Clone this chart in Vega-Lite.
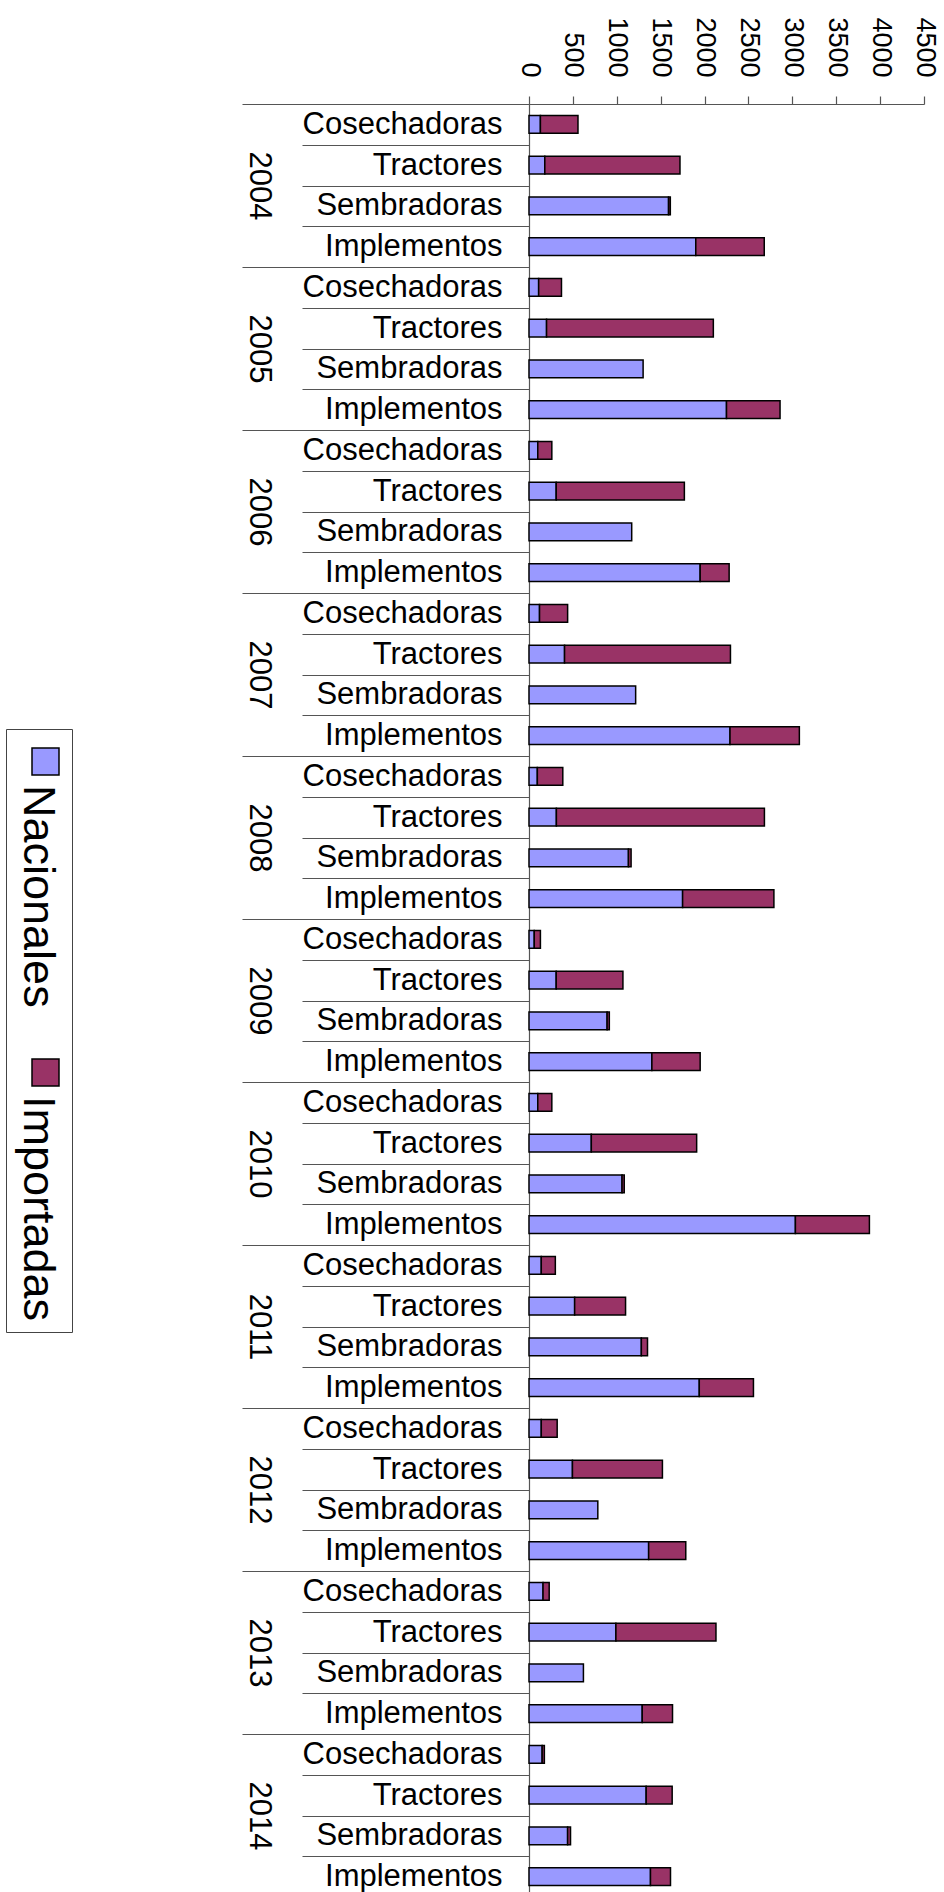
{
  "$schema": "https://vega.github.io/schema/vega-lite/v6.json",
  "autosize": {"type": "none"},
  "padding": {"left": 529, "top": 104, "right": 20, "bottom": 0},
  "width": 395,
  "height": 1793,
  "config": {
    "view": {"stroke": null},
    "font": "Liberation Sans",
    "axis": {"labelFont": "Liberation Sans", "labelColor": "black", "domainColor": "#555", "tickColor": "#555", "grid": false, "domainWidth": 1.2, "tickWidth": 1.2},
    "legend": {"labelFont": "Liberation Sans", "labelColor": "black"}
  },
  "datasets": {
    "d": [
      {"fila": "2004 Cosechadoras", "anio": "2004", "origen": "Nacionales", "unidades": 130},
      {"fila": "2004 Cosechadoras", "anio": "2004", "origen": "Importadas", "unidades": 428},
      {"fila": "2004 Tractores", "anio": "2004", "origen": "Nacionales", "unidades": 180},
      {"fila": "2004 Tractores", "anio": "2004", "origen": "Importadas", "unidades": 1540},
      {"fila": "2004 Sembradoras", "anio": "2004", "origen": "Nacionales", "unidades": 1590},
      {"fila": "2004 Sembradoras", "anio": "2004", "origen": "Importadas", "unidades": 20},
      {"fila": "2004 Implementos", "anio": "2004", "origen": "Nacionales", "unidades": 1900},
      {"fila": "2004 Implementos", "anio": "2004", "origen": "Importadas", "unidades": 780},
      {"fila": "2005 Cosechadoras", "anio": "2005", "origen": "Nacionales", "unidades": 110},
      {"fila": "2005 Cosechadoras", "anio": "2005", "origen": "Importadas", "unidades": 260},
      {"fila": "2005 Tractores", "anio": "2005", "origen": "Nacionales", "unidades": 200},
      {"fila": "2005 Tractores", "anio": "2005", "origen": "Importadas", "unidades": 1900},
      {"fila": "2005 Sembradoras", "anio": "2005", "origen": "Nacionales", "unidades": 1300},
      {"fila": "2005 Implementos", "anio": "2005", "origen": "Nacionales", "unidades": 2250},
      {"fila": "2005 Implementos", "anio": "2005", "origen": "Importadas", "unidades": 610},
      {"fila": "2006 Cosechadoras", "anio": "2006", "origen": "Nacionales", "unidades": 100},
      {"fila": "2006 Cosechadoras", "anio": "2006", "origen": "Importadas", "unidades": 160},
      {"fila": "2006 Tractores", "anio": "2006", "origen": "Nacionales", "unidades": 310},
      {"fila": "2006 Tractores", "anio": "2006", "origen": "Importadas", "unidades": 1460},
      {"fila": "2006 Sembradoras", "anio": "2006", "origen": "Nacionales", "unidades": 1170},
      {"fila": "2006 Implementos", "anio": "2006", "origen": "Nacionales", "unidades": 1950},
      {"fila": "2006 Implementos", "anio": "2006", "origen": "Importadas", "unidades": 330},
      {"fila": "2007 Cosechadoras", "anio": "2007", "origen": "Nacionales", "unidades": 120},
      {"fila": "2007 Cosechadoras", "anio": "2007", "origen": "Importadas", "unidades": 320},
      {"fila": "2007 Tractores", "anio": "2007", "origen": "Nacionales", "unidades": 405},
      {"fila": "2007 Tractores", "anio": "2007", "origen": "Importadas", "unidades": 1890},
      {"fila": "2007 Sembradoras", "anio": "2007", "origen": "Nacionales", "unidades": 1215},
      {"fila": "2007 Implementos", "anio": "2007", "origen": "Nacionales", "unidades": 2290},
      {"fila": "2007 Implementos", "anio": "2007", "origen": "Importadas", "unidades": 790},
      {"fila": "2008 Cosechadoras", "anio": "2008", "origen": "Nacionales", "unidades": 95},
      {"fila": "2008 Cosechadoras", "anio": "2008", "origen": "Importadas", "unidades": 290},
      {"fila": "2008 Tractores", "anio": "2008", "origen": "Nacionales", "unidades": 312},
      {"fila": "2008 Tractores", "anio": "2008", "origen": "Importadas", "unidades": 2370},
      {"fila": "2008 Sembradoras", "anio": "2008", "origen": "Nacionales", "unidades": 1133},
      {"fila": "2008 Sembradoras", "anio": "2008", "origen": "Importadas", "unidades": 30},
      {"fila": "2008 Implementos", "anio": "2008", "origen": "Nacionales", "unidades": 1750},
      {"fila": "2008 Implementos", "anio": "2008", "origen": "Importadas", "unidades": 1040},
      {"fila": "2009 Cosechadoras", "anio": "2009", "origen": "Nacionales", "unidades": 60},
      {"fila": "2009 Cosechadoras", "anio": "2009", "origen": "Importadas", "unidades": 70},
      {"fila": "2009 Tractores", "anio": "2009", "origen": "Nacionales", "unidades": 310},
      {"fila": "2009 Tractores", "anio": "2009", "origen": "Importadas", "unidades": 760},
      {"fila": "2009 Sembradoras", "anio": "2009", "origen": "Nacionales", "unidades": 890},
      {"fila": "2009 Sembradoras", "anio": "2009", "origen": "Importadas", "unidades": 25},
      {"fila": "2009 Implementos", "anio": "2009", "origen": "Nacionales", "unidades": 1400},
      {"fila": "2009 Implementos", "anio": "2009", "origen": "Importadas", "unidades": 550},
      {"fila": "2010 Cosechadoras", "anio": "2010", "origen": "Nacionales", "unidades": 100},
      {"fila": "2010 Cosechadoras", "anio": "2010", "origen": "Importadas", "unidades": 160},
      {"fila": "2010 Tractores", "anio": "2010", "origen": "Nacionales", "unidades": 710},
      {"fila": "2010 Tractores", "anio": "2010", "origen": "Importadas", "unidades": 1200},
      {"fila": "2010 Sembradoras", "anio": "2010", "origen": "Nacionales", "unidades": 1060},
      {"fila": "2010 Sembradoras", "anio": "2010", "origen": "Importadas", "unidades": 25},
      {"fila": "2010 Implementos", "anio": "2010", "origen": "Nacionales", "unidades": 3035},
      {"fila": "2010 Implementos", "anio": "2010", "origen": "Importadas", "unidades": 843},
      {"fila": "2011 Cosechadoras", "anio": "2011", "origen": "Nacionales", "unidades": 140},
      {"fila": "2011 Cosechadoras", "anio": "2011", "origen": "Importadas", "unidades": 160},
      {"fila": "2011 Tractores", "anio": "2011", "origen": "Nacionales", "unidades": 520},
      {"fila": "2011 Tractores", "anio": "2011", "origen": "Importadas", "unidades": 580},
      {"fila": "2011 Sembradoras", "anio": "2011", "origen": "Nacionales", "unidades": 1280},
      {"fila": "2011 Sembradoras", "anio": "2011", "origen": "Importadas", "unidades": 70},
      {"fila": "2011 Implementos", "anio": "2011", "origen": "Nacionales", "unidades": 1940},
      {"fila": "2011 Implementos", "anio": "2011", "origen": "Importadas", "unidades": 617},
      {"fila": "2012 Cosechadoras", "anio": "2012", "origen": "Nacionales", "unidades": 140},
      {"fila": "2012 Cosechadoras", "anio": "2012", "origen": "Importadas", "unidades": 181},
      {"fila": "2012 Tractores", "anio": "2012", "origen": "Nacionales", "unidades": 495},
      {"fila": "2012 Tractores", "anio": "2012", "origen": "Importadas", "unidades": 1025},
      {"fila": "2012 Sembradoras", "anio": "2012", "origen": "Nacionales", "unidades": 784},
      {"fila": "2012 Implementos", "anio": "2012", "origen": "Nacionales", "unidades": 1363},
      {"fila": "2012 Implementos", "anio": "2012", "origen": "Importadas", "unidades": 423},
      {"fila": "2013 Cosechadoras", "anio": "2013", "origen": "Nacionales", "unidades": 160},
      {"fila": "2013 Cosechadoras", "anio": "2013", "origen": "Importadas", "unidades": 70},
      {"fila": "2013 Tractores", "anio": "2013", "origen": "Nacionales", "unidades": 990},
      {"fila": "2013 Tractores", "anio": "2013", "origen": "Importadas", "unidades": 1140},
      {"fila": "2013 Sembradoras", "anio": "2013", "origen": "Nacionales", "unidades": 620},
      {"fila": "2013 Implementos", "anio": "2013", "origen": "Nacionales", "unidades": 1290},
      {"fila": "2013 Implementos", "anio": "2013", "origen": "Importadas", "unidades": 345},
      {"fila": "2014 Cosechadoras", "anio": "2014", "origen": "Nacionales", "unidades": 150},
      {"fila": "2014 Cosechadoras", "anio": "2014", "origen": "Importadas", "unidades": 25},
      {"fila": "2014 Tractores", "anio": "2014", "origen": "Nacionales", "unidades": 1335},
      {"fila": "2014 Tractores", "anio": "2014", "origen": "Importadas", "unidades": 296},
      {"fila": "2014 Sembradoras", "anio": "2014", "origen": "Nacionales", "unidades": 440},
      {"fila": "2014 Sembradoras", "anio": "2014", "origen": "Importadas", "unidades": 33},
      {"fila": "2014 Implementos", "anio": "2014", "origen": "Nacionales", "unidades": 1384},
      {"fila": "2014 Implementos", "anio": "2014", "origen": "Importadas", "unidades": 228}
    ]
  },
  "data": {"name": "d"},
  "layer": [
    {
      "mark": {"type": "bar", "height": {"band": 0.43}, "stroke": "black", "strokeWidth": 1.5},
      "encoding": {
        "y": {
          "field": "fila", "type": "nominal", "sort": null,
          "scale": {"paddingInner": 0, "paddingOuter": 0},
          "axis": {
            "orient": "left",
            "title": null,
            "labelExpr": "split(datum.label, ' ')[1]",
            "tickBand": "extent",
            "tickSize": 227,
            "labelPadding": -200,
            "labelFontSize": 31,
            "labelAlign": "right",
            "labelBaseline": "middle",
            "labelLimit": 0
          }
        },
        "x": {
          "field": "unidades", "type": "quantitative", "stack": "zero",
          "scale": {"domain": [0, 4500], "nice": false},
          "axis": {
            "orient": "top",
            "title": null,
            "values": [0, 500, 1000, 1500, 2000, 2500, 3000, 3500, 4000, 4500],
            "format": "d",
            "labelAngle": 90,
            "labelAlign": "right",
            "labelBaseline": "middle",
            "labelFlush": false,
            "labelOverlap": false,
            "tickSize": 8,
            "labelPadding": 19,
            "labelFontSize": 27
          }
        },
        "color": {
          "field": "origen", "type": "nominal",
          "scale": {"domain": ["Nacionales", "Importadas"], "range": ["#9999FF", "#993366"]},
          "legend": {
            "title": null,
            "orient": "none",
            "legendX": -523,
            "legendY": 625,
            "direction": "vertical",
            "symbolType": "square",
            "symbolSize": 729,
            "symbolStrokeColor": "black",
            "symbolStrokeWidth": 1.5,
            "symbolOpacity": 1,
            "symbolOffset": 7,
            "labelFontSize": 45,
            "labelLimit": 0,
            "strokeColor": "#444",
            "fillColor": "white",
            "padding": 10,
            "rowPadding": 42,
            "encoding": {
              "labels": {
                "angle": {"value": 90},
                "align": {"value": "left"},
                "baseline": {"value": "middle"},
                "x": {"value": 21.5},
                "y": {"value": 46}
              }
            }
          }
        },
        "order": {"field": "origen", "sort": "descending"}
      }
    },
    {
      "mark": {"type": "text", "text": ""},
      "encoding": {
        "y": {
          "field": "anio", "type": "nominal", "sort": null,
          "scale": {"paddingInner": 0, "paddingOuter": 0},
          "axis": {
            "orient": "left",
            "offset": 0,
            "title": null,
            "domain": false,
            "tickBand": "extent",
            "tickSize": 287,
            "labelPadding": -31,
            "labelAngle": 90,
            "labelAlign": "center",
            "labelBaseline": "top",
            "labelFontSize": 31
          }
        }
      }
    }
  ],
  "resolve": {"scale": {"y": "independent"}, "axis": {"y": "independent"}}
}
